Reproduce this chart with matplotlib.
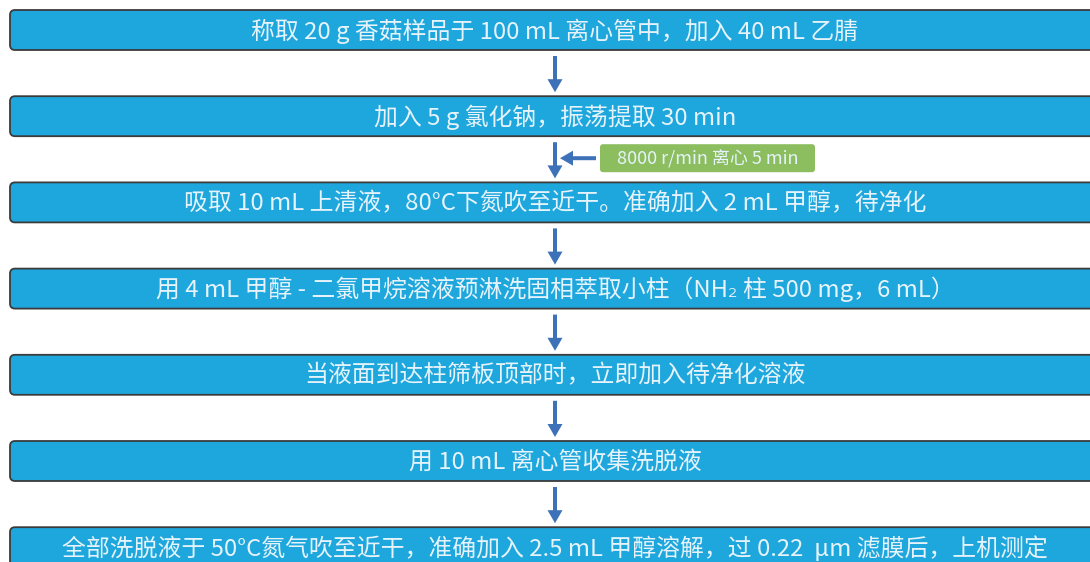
import matplotlib
matplotlib.use("Agg")
import matplotlib.pyplot as plt
from matplotlib.patches import FancyBboxPatch, FancyArrow

plt.rcParams['font.family'] = ['Noto Sans CJK SC', 'DejaVu Sans']

steps = [
    "称取 20 g 香菇样品于 100 mL 离心管中，加入 40 mL 乙腈",
    "加入 5 g 氯化钠，振荡提取 30 min",
    "吸取 10 mL 上清液，80°C下氮吹至近干。准确加入 2 mL 甲醇，待净化",
    "用 4 mL 甲醇 - 二氯甲烷溶液预淋洗固相萃取小柱（NH₂ 柱 500 mg，6 mL）",
    "当液面到达柱筛板顶部时，立即加入待净化溶液",
    "用 10 mL 离心管收集洗脱液",
    "全部洗脱液于 50°C氮气吹至近干，准确加入 2.5 mL 甲醇溶解，过 0.22  μm 滤膜后，上机测定",
]
side_note = "8000 r/min 离心 5 min"
side_after_step = 1  # note sits between step 2 and step 3

W, H = 1090, 562
fig = plt.figure(figsize=(W / 100, H / 100), dpi=100)
ax = fig.add_axes([0, 0, 1, 1])
ax.set_xlim(0, W)
ax.set_ylim(H, 0)
ax.axis('off')

box_x0, box_x1 = 10, 1102
box_h = 40
top0 = 10
pitch = 86.2
blue = '#1ea7dd'
edge = '#3b3b3b'
arrow_c = '#3d72b9'
green = '#8cbd5f'
txt_c = '#e6f3fa'
cx = 555

for i, s in enumerate(steps):
    top = top0 + i * pitch
    p = FancyBboxPatch((box_x0, top), box_x1 - box_x0, box_h,
                       boxstyle="round,pad=0,rounding_size=5",
                       fc=blue, ec=edge, lw=1.3, zorder=2)
    ax.add_patch(p)
    ax.text(cx, top + box_h / 2 + 1, s, ha='center', va='center',
            color=txt_c, fontsize=17.2, fontweight='light', zorder=3)
    if i < len(steps) - 1:
        y0 = top + box_h + 6
        y1 = top + pitch - 4
        ax.add_patch(FancyArrow(cx, y0, 0, (y1 - y0), width=4,
                                head_width=15, head_length=13,
                                length_includes_head=True,
                                fc=arrow_c, ec='none', zorder=3))

# side note
ntop = top0 + side_after_step * pitch + box_h + 8
gx0, gx1 = 600, 815
gh = 28
ax.add_patch(FancyBboxPatch((gx0, ntop), gx1 - gx0, gh,
                            boxstyle="round,pad=0,rounding_size=3",
                            fc=green, ec='none', zorder=2))
ax.text((gx0 + gx1) / 2, ntop + gh / 2 + 1, side_note, ha='center', va='center',
        color=txt_c, fontsize=13, fontweight='light', zorder=3)
ay = ntop + gh / 2
ax.add_patch(FancyArrow(gx0 - 4, ay, -(gx0 - 4 - 560), 0, width=4,
                        head_width=15, head_length=13,
                        length_includes_head=True,
                        fc=arrow_c, ec='none', zorder=3))

fig.savefig('out.png', dpi=100)
